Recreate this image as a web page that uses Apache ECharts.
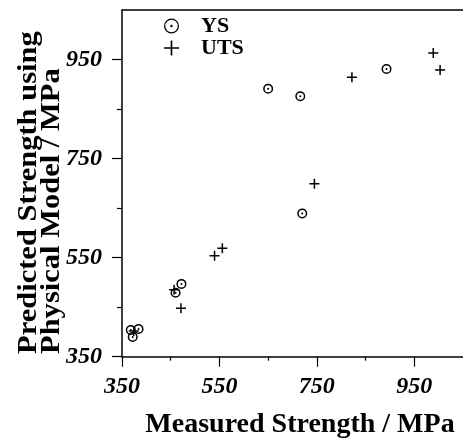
<!DOCTYPE html>
<html><head><meta charset="utf-8">
<script src="https://cdn.jsdelivr.net/npm/echarts@6/dist/echarts.min.js"></script>
<style>html,body{margin:0;padding:0;background:#fff;overflow:hidden}#c{width:463px;height:445px}</style>
</head><body><div id="c"></div>
<script>
// Data (Measured, Predicted) in MPa
const ysData = [[650,891],[716,876],[893,931],[720,639],[472,497],[460,479],[368,404],[384,406],[372,390]];
const utsData = [[989,963],[1003,929],[822,914],[745,699],[556,569],[540,554],[457,485],[471,448],[374,402]];
const majorTicks = [350,550,750,950];
const minorTicks = [450,650,850];
const axisMin = 350, axisMax = 1050;
const seriesNames = ['YS','UTS'];
const xTitle = 'Measured Strength / MPa';
const yTitle1 = 'Predicted Strength using';
const yTitle2 = 'Physical Model / MPa';

const ring = (R, r, d) =>
  'path://M-' + R + ' 0A' + R + ' ' + R + ' 0 1 0 ' + R + ' 0A' + R + ' ' + R + ' 0 1 0 -' + R + ' 0Z' +
  'M-' + r + ' 0A' + r + ' ' + r + ' 0 1 1 ' + r + ' 0A' + r + ' ' + r + ' 0 1 1 -' + r + ' 0Z' +
  'M-' + d + ' 0A' + d + ' ' + d + ' 0 1 0 ' + d + ' 0A' + d + ' ' + d + ' 0 1 0 -' + d + ' 0Z';
const plus = (t) => 'path://M-' + t + ' -10H' + t + 'V-' + t + 'H10V' + t + 'H' + t + 'V10H-' + t + 'V' + t + 'H-10V-' + t + 'H-' + t + 'Z';

const serif = '"Liberation Serif","Times New Roman",serif';
const lbl = {fontFamily: serif, fontWeight: 'bold', fontStyle: 'italic', fontSize: 24, color: '#000'};

const chart = echarts.init(document.getElementById('c'), null, {renderer: 'canvas'});
chart.setOption({
  animation: false,
  backgroundColor: '#fff',
  grid: {left: 122, top: 10, right: -5.5, bottom: 88.3, containLabel: false},
  legend: {
    orient: 'vertical', left: 159, top: 10, itemWidth: 15, itemHeight: 15, itemGap: 0,
    data: [{name: seriesNames[0], icon: ring(10, 8.3, 1.6)}, {name: seriesNames[1], icon: plus(1.1)}],
    textStyle: {fontFamily: serif, fontWeight: 'bold', fontSize: 22, color: '#000', lineHeight: 15, padding: [0,0,0,17]}
  },
  xAxis: [{
    type: 'value', min: axisMin, max: axisMax, position: 'bottom',
    splitLine: {show: false},
    axisLine: {show: true, lineStyle: {color: '#000', width: 1.5}},
    axisTick: {show: true, inside: false, length: 10, customValues: majorTicks, lineStyle: {color: '#000', width: 1.2}},
    axisLabel: {show: true, customValues: majorTicks, margin: 18, ...lbl}
  }, {
    type: 'value', min: axisMin, max: axisMax, position: 'bottom',
    splitLine: {show: false}, axisLine: {show: false}, axisLabel: {show: false},
    axisTick: {show: true, length: 4, customValues: minorTicks, lineStyle: {color: '#000', width: 1.2}}
  }, {
    type: 'value', min: axisMin, max: axisMax, position: 'top',
    splitLine: {show: false}, axisTick: {show: false}, axisLabel: {show: false},
    axisLine: {show: true, lineStyle: {color: '#000', width: 1.5}}
  }],
  yAxis: [{
    type: 'value', min: axisMin, max: axisMax, position: 'left',
    splitLine: {show: false},
    axisLine: {show: true, lineStyle: {color: '#000', width: 1.5}},
    axisTick: {show: true, length: 10, customValues: majorTicks, lineStyle: {color: '#000', width: 1.2}},
    axisLabel: {show: true, customValues: majorTicks, margin: 20, ...lbl}
  }, {
    type: 'value', min: axisMin, max: axisMax, position: 'left',
    splitLine: {show: false}, axisLine: {show: false}, axisLabel: {show: false},
    axisTick: {show: true, length: 5, customValues: minorTicks, lineStyle: {color: '#000', width: 1.2}}
  }],
  series: [{
    name: seriesNames[0], type: 'scatter', data: ysData, xAxisIndex: 0, yAxisIndex: 0,
    symbol: ring(10, 7, 2), symbolSize: 10, itemStyle: {color: '#000', opacity: 1}
  }, {
    name: seriesNames[1], type: 'scatter', data: utsData, xAxisIndex: 0, yAxisIndex: 0,
    symbol: plus(1.5), symbolSize: 10, itemStyle: {color: '#000', opacity: 1}
  }],
  graphic: [
    {type: 'text', x: 300, y: 425, style: {text: xTitle, fontFamily: serif, fontWeight: 'bold', fontSize: 28, fill: '#000', textAlign: 'center', textVerticalAlign: 'middle'}},
    {type: 'text', x: 28.5, y: 354, rotation: Math.PI / 2, scaleX: 1.09, style: {text: yTitle1, fontFamily: serif, fontWeight: 'bold', fontSize: 28, fill: '#000', textAlign: 'left', textVerticalAlign: 'middle'}},
    {type: 'text', x: 52, y: 354, rotation: Math.PI / 2, scaleX: 1.09, style: {text: yTitle2, fontFamily: serif, fontWeight: 'bold', fontSize: 28, fill: '#000', textAlign: 'left', textVerticalAlign: 'middle'}}
  ]
});
</script></body></html>
